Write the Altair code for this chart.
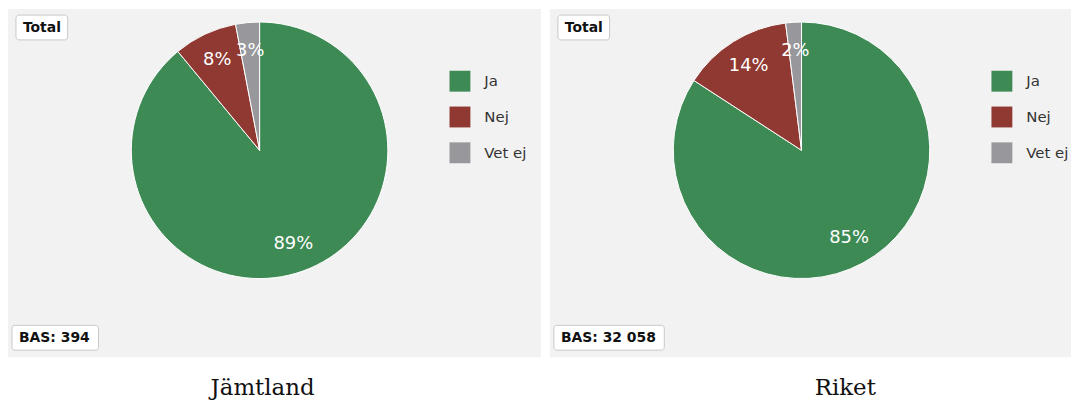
import altair as alt
import pandas as pd

categories = ["Ja", "Nej", "Vet ej"]
jamtland_pct = [89, 8, 3]
riket_pct = [85, 14, 2]
jamtland_labels = ["89%", "8%", "3%"]
riket_labels = ["85%", "14%", "2%"]
regions = ["Jämtland", "Riket"]
bas_labels = ["BAS: 394", "BAS: 32 058"]
badge_label = "Total"
colors = ["#3e8a55", "#8f3932", "#98989c"]


def panel(region, values, labels, bas, bas_w, width, cx, title_dx):
    df = pd.DataFrame({
        "cat": categories,
        "value": values,
        "label": labels,
        "idx": list(range(len(categories))),
    })
    base = alt.Chart(df).encode(
        theta=alt.Theta("value:Q", stack=True),
        order=alt.Order("idx:Q"),
        x=alt.value(cx),
        y=alt.value(142),
    )
    arcs = base.mark_arc(outerRadius=129, stroke="white", strokeWidth=1).encode(
        color=alt.Color(
            "cat:N",
            scale=alt.Scale(domain=categories, range=colors),
            sort=categories,
            legend=alt.Legend(
                orient="none", legendX=444, legendY=62, title=None,
                symbolType="square", symbolSize=441, symbolStrokeWidth=0,
                labelFontSize=15, labelFont="DejaVu Sans", labelColor="#333333",
                rowPadding=15, labelOffset=14,
            ),
        )
    )
    texts = base.mark_text(
        radius=100, color="white", fontSize=18, font="DejaVu Sans"
    ).encode(text="label:N")

    badge_df = pd.DataFrame({"t": [badge_label]})
    badge_box = alt.Chart(badge_df).mark_rect(
        fill="white", stroke="#c8c8c8", strokeWidth=1, cornerRadius=3
    ).encode(x=alt.value(8), x2=alt.value(60), y=alt.value(6), y2=alt.value(31))
    badge_text = alt.Chart(badge_df).mark_text(
        align="left", baseline="middle", fontSize=14, fontWeight="bold",
        font="DejaVu Sans", color="#111111"
    ).encode(x=alt.value(15), y=alt.value(19), text="t:N")

    bas_df = pd.DataFrame({"t": [bas]})
    bas_box = alt.Chart(bas_df).mark_rect(
        fill="white", stroke="#c8c8c8", strokeWidth=1, cornerRadius=3
    ).encode(x=alt.value(4), x2=alt.value(4 + bas_w), y=alt.value(318), y2=alt.value(343))
    bas_text = alt.Chart(bas_df).mark_text(
        align="left", baseline="middle", fontSize=14, fontWeight="bold",
        font="DejaVu Sans", color="#111111"
    ).encode(x=alt.value(11), y=alt.value(331), text="t:N")

    return alt.layer(arcs, texts, badge_box, badge_text, bas_box, bas_text).properties(
        width=width,
        height=350,
        title=alt.TitleParams(
            region, orient="bottom", font="DejaVu Serif", fontSize=23,
            fontWeight="normal", color="#111111", offset=20, dx=title_dx,
        ),
    )


left = panel(regions[0], jamtland_pct, jamtland_labels, bas_labels[0], 87, 536, 253, -12)
right = panel(regions[1], riket_pct, riket_labels, bas_labels[1], 111, 524, 253, 35)

chart = alt.hconcat(left, right, spacing=9).resolve_scale(color="independent").properties(
    padding=0
).configure_view(fill="#f2f2f2", strokeWidth=0)

chart.save("out.html", embed_options={"renderer": "svg", "actions": False})
